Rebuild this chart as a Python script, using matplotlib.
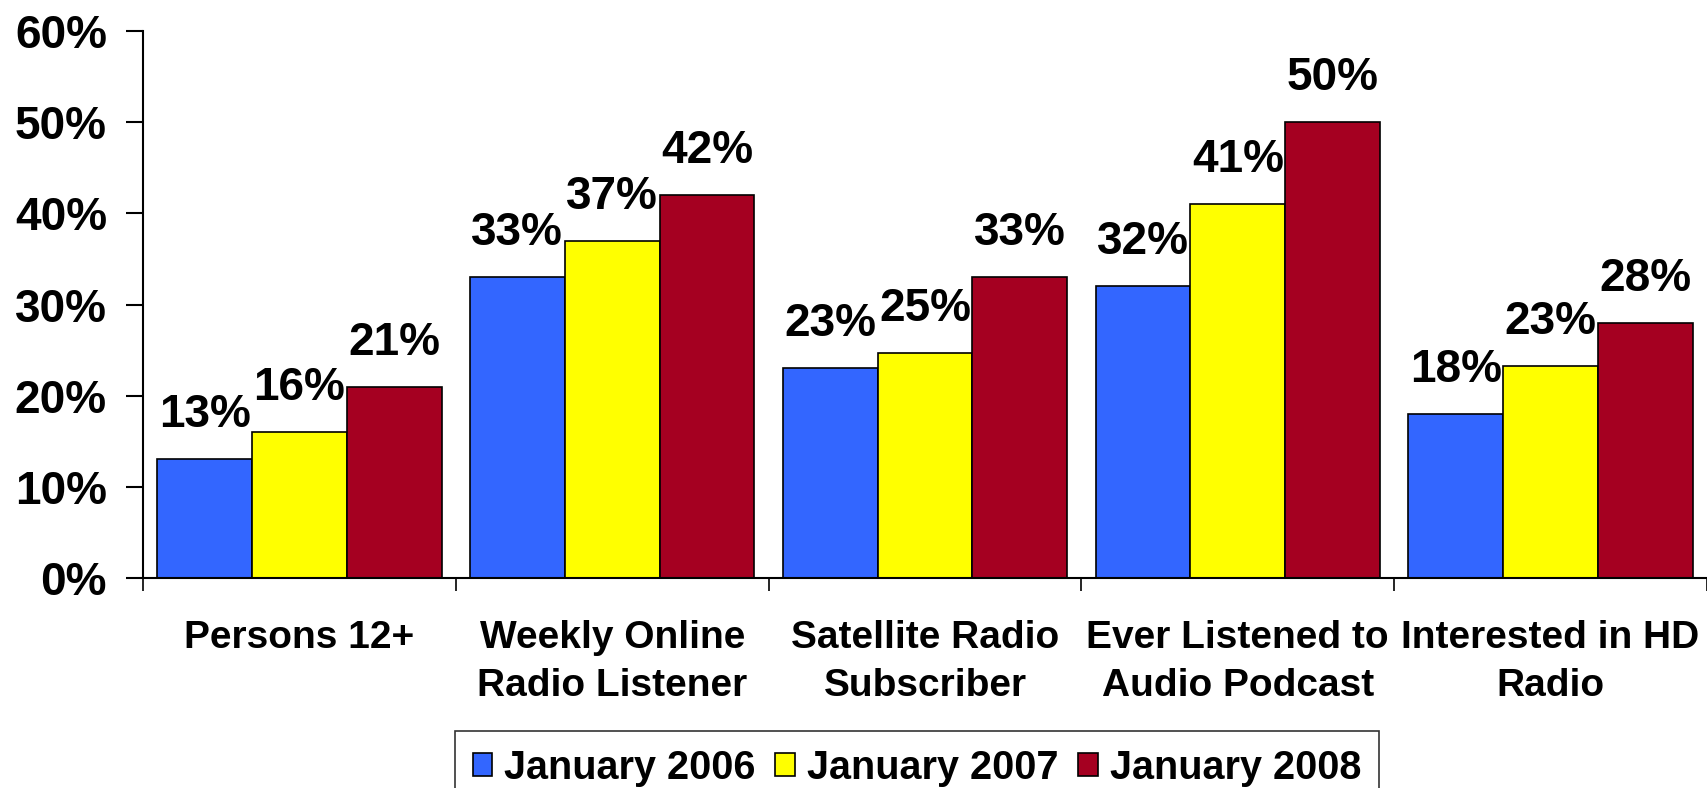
import matplotlib
matplotlib.use("Agg")
import matplotlib.pyplot as plt
import numpy as np

categories = ["Persons 12+", "Weekly Online\nRadio Listener", "Satellite Radio\nSubscriber",
              "Ever Listened to\nAudio Podcast", "Interested in HD\nRadio"]
jan_2006 = [13, 33, 23, 32, 18]
jan_2007 = [16, 37, 24.7, 41, 23.2]
jan_2008 = [21, 42, 33, 50, 28]
series_names = ["January 2006", "January 2007", "January 2008"]
labels_2006 = ["13%", "33%", "23%", "32%", "18%"]
labels_2007 = ["16%", "37%", "25%", "41%", "23%"]
labels_2008 = ["21%", "42%", "33%", "50%", "28%"]

colors = ["#3366FF", "#FFFF00", "#A50021"]

plt.rcParams['font.family'] = ['Liberation Sans', 'DejaVu Sans']
plt.rcParams['font.weight'] = 'bold'

fig = plt.figure(figsize=(17.07, 7.88), dpi=100)
ax = fig.add_axes([143 / 1707, 1 - 578 / 788, 1 - 143 / 1707, (578 - 31) / 788])

x = np.arange(len(categories))
w = 0.303
series = [jan_2006, jan_2007, jan_2008]
all_labels = [labels_2006, labels_2007, labels_2008]
handles = []
for i, (vals, labs) in enumerate(zip(series, all_labels)):
    bars = ax.bar(x + (i - 1) * w, vals, w, color=colors[i], edgecolor="black",
                  linewidth=1.2, label=series_names[i])
    handles.append(bars)
    for b, lab in zip(bars, labs):
        ax.annotate(lab, (b.get_x() + b.get_width() / 2, b.get_height()),
                    xytext=(0, 32), textcoords="offset pixels",
                    ha="center", va="baseline", fontsize=33, fontweight="bold")

ax.set_xlim(-0.5, 4.5)
ax.set_ylim(0, 60)
ax.set_yticks(range(0, 61, 10))
ax.set_yticklabels([f"{v}%" for v in range(0, 61, 10)], fontsize=33, fontweight="bold")
ax.tick_params(axis="y", length=12, width=1.5, pad=14, direction="out")

ax.set_xticks(np.arange(-0.5, 4.6, 1))
ax.set_xticklabels([])
ax.tick_params(axis="x", which="major", length=9, width=1.2, direction="out")
ax.set_xticks(x, minor=True)
ax.set_xticklabels(categories, minor=True, fontsize=28, fontweight="bold", linespacing=1.45)
ax.tick_params(axis="x", which="minor", length=0, pad=30)

for s in ["top", "right"]:
    ax.spines[s].set_visible(False)
for s in ["left", "bottom"]:
    ax.spines[s].set_linewidth(1.5)
    ax.spines[s].set_color("black")

leg = fig.legend(handles=handles, labels=series_names, loc="upper center",
                 bbox_to_anchor=(917 / 1707, 1 - 731 / 788), ncol=3, frameon=True,
                 fancybox=False, edgecolor="black", fontsize=28.5, handlelength=0.5,
                 handleheight=0.5, handletextpad=0.3, columnspacing=0.5,
                 borderpad=0.45, borderaxespad=0)
leg.get_frame().set_linewidth(1.2)
for t in leg.get_texts():
    t.set_fontweight("bold")

fig.savefig("out.png", dpi=100)
